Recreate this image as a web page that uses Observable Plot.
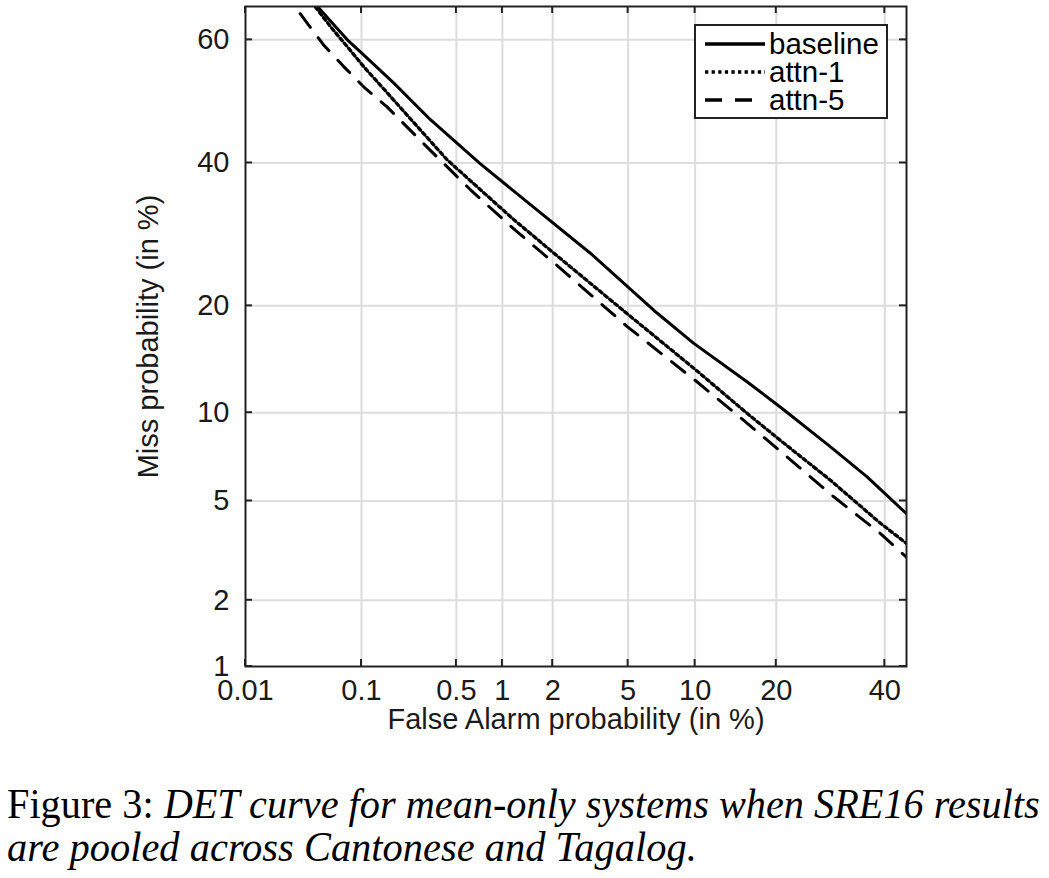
<!DOCTYPE html>
<html><head><meta charset="utf-8">
<script src="https://cdn.jsdelivr.net/npm/d3@7"></script>
<script src="https://cdn.jsdelivr.net/npm/@observablehq/plot@0.6"></script>
<style>
html,body{margin:0;padding:0;background:#fff;}
#caption{display:block;}
</style></head><body>
<div id="chart"></div>
<svg id="caption" width="1049" height="133"></svg>
<script>
// ---------- data (percent) ----------
const seriesNames = ["baseline", "attn-1", "attn-5"];
const faBaseline   = [0.0436, 0.077, 0.104, 0.178, 0.33, 0.72, 1.49, 3.22, 6.6, 9.87, 15.9, 21.2, 29.2, 36.4, 44.6];
const missBaseline = [65.2, 60.0, 57.6, 53.0, 47.0, 39.9, 33.5, 26.6, 19.5, 15.96, 12.4, 10.2, 7.75, 6.1, 4.48];
const faAttn1   = [0.042, 0.056, 0.077, 0.104, 0.168, 0.265, 0.432, 0.724, 1.18, 1.94, 4.95, 9.87, 15.9, 20.6, 29.2, 39.1, 44.6];
const missAttn1 = [65.1, 62.1, 58.9, 55.7, 50.8, 45.9, 40.5, 35.8, 31.3, 27.0, 19.1, 13.6, 9.94, 8.15, 5.94, 4.12, 3.44];
const faAttn5   = [0.031, 0.049, 0.072, 0.104, 0.158, 0.32, 0.622, 1.20, 2.21, 4.95, 10.2, 15.4, 21.7, 29.8, 39.1, 44.6];
const missAttn5 = [64.1, 59.2, 55.7, 52.4, 49.1, 42.3, 35.8, 29.8, 24.6, 17.7, 12.4, 9.47, 7.16, 5.18, 3.76, 3.03];

const xTicks = [0.01, 0.1, 0.5, 1, 2, 5, 10, 20, 40];
const xTickLabels = ["0.01", "0.1", "0.5", "1", "2", "5", "10", "20", "40"];
const yTicks = [1, 2, 5, 10, 20, 40, 60];
const yTickLabels = ["1", "2", "5", "10", "20", "40", "60"];
const xDomainPct = [0.01, 44.6];
const yDomainPct = [1, 65.2];
const xLabel = "False Alarm probability (in %)";
const yLabel = "Miss probability (in %)";
const captionLabel = "Figure 3: ";
const captionLine1 = "DET curve for mean-only systems when SRE16 results";
const captionLine2 = "are pooled across Cantonese and Tagalog.";

// ---------- normal deviate (probit) ----------
function probit(p) {
  const a=[-3.969683028665376e+01,2.209460984245205e+02,-2.759285104469687e+02,1.383577518672690e+02,-3.066479806614716e+01,2.506628277459239e+00];
  const b=[-5.447609879822406e+01,1.615858368580409e+02,-1.556989798598866e+02,6.680131188771972e+01,-1.328068155288572e+01];
  const c=[-7.784894002430293e-03,-3.223964580411365e-01,-2.400758277161838e+00,-2.549671348718961e+00,4.374664141464968e+00,2.938163982698783e+00];
  const e=[7.784695709041462e-03,3.224671290700398e-01,2.445134137142996e+00,3.754408661907416e+00];
  const pl = 0.02425, ph = 1 - pl;
  let q, r;
  if (p < pl) { q = Math.sqrt(-2*Math.log(p)); return (((((c[0]*q+c[1])*q+c[2])*q+c[3])*q+c[4])*q+c[5])/((((e[0]*q+e[1])*q+e[2])*q+e[3])*q+1); }
  if (p <= ph) { q = p - 0.5; r = q*q; return (((((a[0]*r+a[1])*r+a[2])*r+a[3])*r+a[4])*r+a[5])*q/(((((b[0]*r+b[1])*r+b[2])*r+b[3])*r+b[4])*r+1); }
  q = Math.sqrt(-2*Math.log(1-p)); return -(((((c[0]*q+c[1])*q+c[2])*q+c[3])*q+c[4])*q+c[5])/((((e[0]*q+e[1])*q+e[2])*q+e[3])*q+1);
}
const P = v => probit(v / 100);

const table = [
  ...faBaseline.map((f, i) => ({series: seriesNames[0], fa: f, miss: missBaseline[i]})),
  ...faAttn1.map((f, i) => ({series: seriesNames[1], fa: f, miss: missAttn1[i]})),
  ...faAttn5.map((f, i) => ({series: seriesNames[2], fa: f, miss: missAttn5[i]}))
];
const lineStyles = {
  "baseline": {dash: null, width: 3},
  "attn-1": {dash: "3.3,3.3", width: 3.3},
  "attn-5": {dash: "17,13", width: 3}
};

(function draw() {
  const FONT = "'Liberation Sans', Arial, Helvetica, sans-serif";
  const FS = 29;
  const xTickPos = xTicks.map(P), yTickPos = yTicks.map(P);
  const lab = (vals, labels) => d => { const i = vals.findIndex(v => Math.abs(v - d) < 1e-9); return i >= 0 ? labels[i] : ""; };

  const W = 1049, H = 745, mL = 245, mR = 143, mT = 6, mB = 79;

  const chart = Plot.plot({
    width: W, height: H,
    marginLeft: mL, marginRight: mR, marginTop: mT, marginBottom: mB,
    style: {fontFamily: FONT, fontSize: FS + "px", color: "#1a1a1a", background: "white"},
    x: {type: "linear", domain: xDomainPct.map(P), ticks: xTickPos, tickFormat: lab(xTickPos, xTickLabels), tickSize: 0, tickPadding: 13, label: null},
    y: {type: "linear", domain: yDomainPct.map(P), ticks: yTickPos, tickFormat: lab(yTickPos, yTickLabels), tickSize: 0, tickPadding: 16, label: null},
    marks: [
      Plot.ruleX(xTicks.slice(1), {x: d => P(d), stroke: "#dcdcdc", strokeWidth: 2}),
      Plot.ruleY(yTicks.slice(1), {y: d => P(d), stroke: "#dcdcdc", strokeWidth: 2}),
      ...seriesNames.map(s => Plot.line(table.filter(d => d.series === s), {
        x: d => P(d.fa), y: d => P(d.miss), stroke: "#000", strokeWidth: lineStyles[s].width,
        strokeDasharray: lineStyles[s].dash, clip: true
      })),
      Plot.frame({stroke: "#222", strokeWidth: 2}),
      Plot.text([xLabel], {frameAnchor: "bottom", dy: 53, text: d => d, fontSize: FS, fill: "#1a1a1a", textAnchor: "middle", lineAnchor: "middle"}),
      Plot.text([yLabel], {frameAnchor: "left", dx: -97, rotate: -90, text: d => d, fontSize: FS, fill: "#1a1a1a", textAnchor: "middle", lineAnchor: "middle"})
    ]
  });
  document.getElementById("chart").appendChild(chart);

  // inward tick marks on all four sides, positioned by Plot's scales
  const sx = chart.scale("x"), sy = chart.scale("y");
  const svg = d3.select(chart);
  const fTop = mT, fBottom = H - mB, fLeft = mL, fRight = W - mR, TL = 7;
  const tg = svg.append("g").attr("stroke", "#222").attr("stroke-width", 2);
  xTicks.forEach(v => {
    const X = sx.apply(P(v));
    tg.append("line").attr("x1", X).attr("x2", X).attr("y1", fTop).attr("y2", fTop + TL);
    tg.append("line").attr("x1", X).attr("x2", X).attr("y1", fBottom).attr("y2", fBottom - TL);
  });
  yTicks.forEach(v => {
    const Y = sy.apply(P(v));
    tg.append("line").attr("y1", Y).attr("y2", Y).attr("x1", fLeft).attr("x2", fLeft + TL);
    tg.append("line").attr("y1", Y).attr("y2", Y).attr("x1", fRight).attr("x2", fRight - TL);
  });

  // legend (top right, inside the frame)
  const lg = svg.append("g");
  const bx = fRight - 211, by = fTop + 19, bw = 192, bh = 93;
  lg.append("rect").attr("x", bx).attr("y", by).attr("width", bw).attr("height", bh)
    .attr("fill", "white").attr("stroke", "#222").attr("stroke-width", 2);
  seriesNames.forEach((s, i) => {
    const cy = by + 19 + i * 28;
    lg.append("line").attr("x1", bx + 10).attr("x2", bx + 70).attr("y1", cy).attr("y2", cy)
      .attr("stroke", "#000").attr("stroke-width", 3.5).attr("stroke-dasharray", lineStyles[s].dash);
    lg.append("text").attr("x", bx + 74).attr("y", cy + 10).attr("font-family", FONT)
      .attr("text-anchor", "start").attr("font-size", 29.5).attr("fill", "#000").text(s);
  });

  // caption (serif, slightly condensed to the reference width)
  const cap = d3.select("#caption");
  const SERIF = "'Liberation Serif', 'Times New Roman', Times, serif";
  function capLine(y, target, build) {
    const g = cap.append("g");
    const t = g.append("text").attr("x", 0).attr("y", 0).attr("font-family", SERIF).attr("font-size", 43).attr("fill", "#000");
    build(t);
    const natural = t.node().getComputedTextLength();
    g.attr("transform", `translate(7,${y}) scale(${target / natural},1)`);
  }
  capLine(73, 1033, t => {
    t.append("tspan").text(captionLabel);
    t.append("tspan").attr("font-style", "italic").text(captionLine1);
  });
  capLine(116, 690, t => {
    t.attr("font-style", "italic").text(captionLine2);
  });
})();
</script>
</body></html>
